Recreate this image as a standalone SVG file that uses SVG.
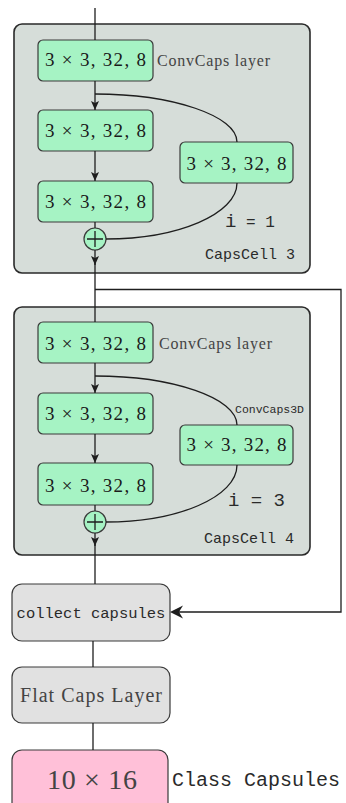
<svg xmlns="http://www.w3.org/2000/svg" width="346" height="803" viewBox="0 0 346 803">
  <defs>
    <style>
      .cell { fill: #d6ddd9; stroke: #2a2a2a; stroke-width: 1.6; }
      .conv { fill: #a6f3c4; stroke: #3a3a3a; stroke-width: 1.2; }
      .gray { fill: #e1e1e1; stroke: #3a3a3a; stroke-width: 1.2; }
      .cls { fill: #ffc0d8; stroke: #3a3a3a; stroke-width: 1.2; }
      .wire { fill: none; stroke: #1e1e1e; stroke-width: 1.3; }
      .head { fill: #1e1e1e; stroke: none; }
      .num { font-size: 19px; fill: #1a1a1a; text-anchor: middle; }
      .serif { fill: #444; }
      .mono { fill: #2a2a2a; }
    </style>
    <!-- small filled stealth head, drawn along +x so orient="auto" follows the wire -->
    <marker id="down" viewBox="0 0 9 8" refX="9" refY="4" markerWidth="9" markerHeight="8" markerUnits="userSpaceOnUse" orient="auto">
      <path d="M0,0 L9,4 L0,8 L2,4 Z" class="head"/>
    </marker>
  </defs>

  <!-- CapsCell 3 -->
  <g id="capscell3">
    <rect class="cell" x="14" y="24" width="296" height="249" rx="8"/>
    <text class="mono" font-family="Liberation Mono, DejaVu Sans Mono, monospace" x="205" y="259" font-size="15">CapsCell 3</text>
    <text class="mono" font-family="Liberation Mono, DejaVu Sans Mono, monospace" x="225" y="227" font-size="16"><tspan font-size="19">i</tspan> = 1</text>
  </g>
  <g id="c3-conv1">
    <rect class="conv" x="38" y="40" width="115" height="41" rx="5"/>
    <text class="num" font-family="Liberation Serif, DejaVu Serif, serif" x="95.5" y="66" textLength="101">3 × 3, 32, 8</text>
  </g>
  <text id="c3-convcaps-label" class="serif" font-family="Liberation Serif, DejaVu Serif, serif" x="157" y="66" font-size="16" textLength="113">ConvCaps layer</text>
  <g id="c3-conv2">
    <rect class="conv" x="38" y="110" width="115" height="41" rx="5"/>
    <text class="num" font-family="Liberation Serif, DejaVu Serif, serif" x="95.5" y="137" textLength="101">3 × 3, 32, 8</text>
  </g>
  <g id="c3-conv3">
    <rect class="conv" x="38" y="181" width="115" height="41" rx="5"/>
    <text class="num" font-family="Liberation Serif, DejaVu Serif, serif" x="95.5" y="208" textLength="101">3 × 3, 32, 8</text>
  </g>
  <g id="c3-conv4">
    <rect class="conv" x="180" y="142" width="113" height="41" rx="5"/>
    <text class="num" font-family="Liberation Serif, DejaVu Serif, serif" x="236.5" y="170" textLength="100">3 × 3, 32, 8</text>
  </g>
  <g id="c3-sum">
    <circle class="conv" cx="95" cy="239" r="11"/>
    <path class="wire" d="M95,231 V247 M87,239 H103" stroke-width="1.6"/>
  </g>

  <!-- CapsCell 4 -->
  <g id="capscell4">
    <rect class="cell" x="14" y="307" width="296" height="248" rx="8"/>
    <text class="mono" font-family="Liberation Mono, DejaVu Sans Mono, monospace" x="204" y="543" font-size="15">CapsCell 4</text>
    <text class="mono" font-family="Liberation Mono, DejaVu Sans Mono, monospace" x="228" y="506" font-size="19">i = 3</text>
    <text class="mono" font-family="Liberation Mono, DejaVu Sans Mono, monospace" x="235" y="413" font-size="11.5">ConvCaps3D</text>
  </g>
  <g id="c4-conv1">
    <rect class="conv" x="38" y="322" width="115" height="41" rx="5"/>
    <text class="num" font-family="Liberation Serif, DejaVu Serif, serif" x="95.5" y="350" textLength="101">3 × 3, 32, 8</text>
  </g>
  <text id="c4-convcaps-label" class="serif" font-family="Liberation Serif, DejaVu Serif, serif" x="159" y="349" font-size="16" textLength="113">ConvCaps layer</text>
  <g id="c4-conv2">
    <rect class="conv" x="38" y="393" width="115" height="41" rx="5"/>
    <text class="num" font-family="Liberation Serif, DejaVu Serif, serif" x="95.5" y="420" textLength="101">3 × 3, 32, 8</text>
  </g>
  <g id="c4-conv3">
    <rect class="conv" x="38" y="463" width="115" height="42" rx="5"/>
    <text class="num" font-family="Liberation Serif, DejaVu Serif, serif" x="95.5" y="492" textLength="101">3 × 3, 32, 8</text>
  </g>
  <g id="c4-conv4">
    <rect class="conv" x="180" y="425" width="113" height="40" rx="5"/>
    <text class="num" font-family="Liberation Serif, DejaVu Serif, serif" x="236.5" y="451" textLength="100">3 × 3, 32, 8</text>
  </g>
  <g id="c4-sum">
    <circle class="conv" cx="95" cy="522" r="11"/>
    <path class="wire" d="M95,514 V530 M87,522 H103" stroke-width="1.6"/>
  </g>

  <!-- output stages -->
  <g id="collect">
    <rect class="gray" x="12" y="584" width="158" height="57" rx="10"/>
    <text class="mono" font-family="Liberation Mono, DejaVu Sans Mono, monospace" x="91" y="618" font-size="15.5" text-anchor="middle" fill="#1a1a1a">collect capsules</text>
  </g>
  <g id="flatcaps">
    <rect class="gray" x="12" y="667" width="158" height="56" rx="10"/>
    <text class="serif" font-family="Liberation Serif, DejaVu Serif, serif" x="91" y="702" font-size="20" text-anchor="middle" textLength="142" fill="#333">Flat Caps Layer</text>
  </g>
  <g id="classcaps">
    <rect class="cls" x="12" y="750" width="156" height="64" rx="10"/>
    <text class="serif" font-family="Liberation Serif, DejaVu Serif, serif" x="92" y="789" font-size="28" text-anchor="middle" textLength="90" fill="#1a1a1a">10 × 16</text>
  </g>
  <text id="classcaps-label" class="mono" font-family="Liberation Mono, DejaVu Sans Mono, monospace" x="172" y="786" font-size="20" fill="#1a1a1a">Class Capsules</text>

  <!-- connectors -->
  <g id="connectors">
    <path class="wire" d="M95,8 V40"/>
    <!-- cell 3 -->
    <path class="wire" d="M95,81 V110" marker-end="url(#down)"/>
    <path class="wire" d="M95,151 V181" marker-end="url(#down)"/>
    <path class="wire" d="M95,222 V228"/>
    <path class="wire" d="M95,94 C173,94 237,116 237,142"/>
    <path class="wire" d="M237,183 C237,214 178,239 106,239"/>
    <path class="wire" d="M95,250 V265" marker-end="url(#down)"/>
    <path class="wire" d="M95,263 V322"/>
    <!-- skip to collect -->
    <path class="wire" d="M95,289.5 H341 V612 H172"/>
    <path class="head" d="M170,612 L183,605.5 L179,612 L183,618.5 Z"/>
    <!-- cell 4 -->
    <path class="wire" d="M95,363 V393" marker-end="url(#down)"/>
    <path class="wire" d="M95,434 V463" marker-end="url(#down)"/>
    <path class="wire" d="M95,505 V511"/>
    <path class="wire" d="M95,376 C173,376 237,398 237,425"/>
    <path class="wire" d="M237,465 C237,497 178,522 106,522"/>
    <path class="wire" d="M95,533 V546" marker-end="url(#down)"/>
    <path class="wire" d="M95,544 V584"/>
    <!-- output chain -->
    <path class="wire" d="M93,641 V667"/>
    <path class="wire" d="M93,723 V750"/>
  </g>
</svg>
